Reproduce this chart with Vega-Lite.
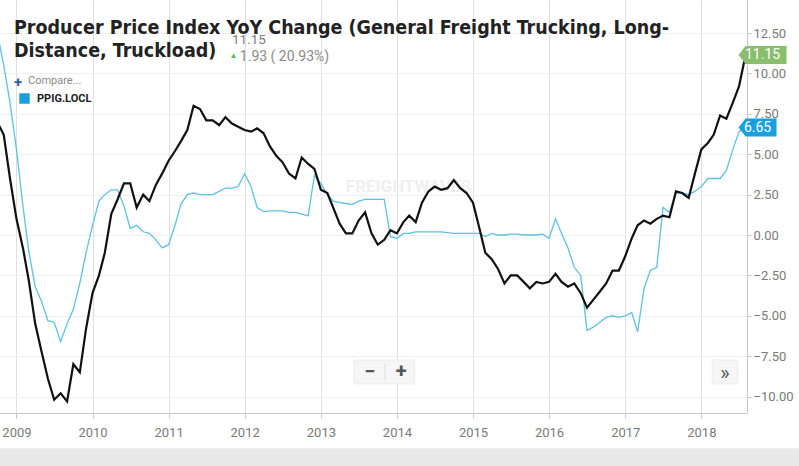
{
  "$schema": "https://vega.github.io/schema/vega-lite/v6.json",
  "width": 747,
  "height": 413,
  "autosize": {"type": "none"},
  "padding": {"left": 0, "top": 0, "right": 52, "bottom": 53},
  "background": "white",
  "config": {"view": {"stroke": null}, "font": "Roboto"},
  "title": {
    "text": ["Producer Price Index YoY Change (General Freight Trucking, Long-", "Distance, Truckload)"],
    "anchor": "start",
    "frame": "group",
    "offset": -76,
    "dx": 14,
    "baseline": "alphabetic",
    "font": "Liberation Sans Narrow, DejaVu Sans Condensed, Roboto",
    "fontSize": 19.5,
    "fontWeight": "bold",
    "color": "#222222",
    "lineHeight": 23
  },
  "data": {
    "values": [
      {"d": "2008-10-01", "tl": 7.0, "ppig": 12.5},
      {"d": "2008-11-01", "tl": 6.2, "ppig": 10.5},
      {"d": "2008-12-01", "tl": 3.5, "ppig": 8.2},
      {"d": "2009-01-01", "tl": 1.0, "ppig": 5.3},
      {"d": "2009-02-01", "tl": -0.8, "ppig": 1.8},
      {"d": "2009-03-01", "tl": -2.8, "ppig": -1.0},
      {"d": "2009-04-01", "tl": -5.5, "ppig": -3.2},
      {"d": "2009-05-01", "tl": -7.2, "ppig": -4.1},
      {"d": "2009-06-01", "tl": -8.9, "ppig": -5.3},
      {"d": "2009-07-01", "tl": -10.2, "ppig": -5.4},
      {"d": "2009-08-01", "tl": -9.8, "ppig": -6.6},
      {"d": "2009-09-01", "tl": -10.3, "ppig": -5.5},
      {"d": "2009-10-01", "tl": -8.0, "ppig": -4.6},
      {"d": "2009-11-01", "tl": -8.5, "ppig": -3.0},
      {"d": "2009-12-01", "tl": -5.8, "ppig": -1.1},
      {"d": "2010-01-01", "tl": -3.6, "ppig": 0.6},
      {"d": "2010-02-01", "tl": -2.5, "ppig": 2.1},
      {"d": "2010-03-01", "tl": -1.1, "ppig": 2.5},
      {"d": "2010-04-01", "tl": 1.3, "ppig": 2.8},
      {"d": "2010-05-01", "tl": 2.2, "ppig": 2.8},
      {"d": "2010-06-01", "tl": 3.2, "ppig": 1.8},
      {"d": "2010-07-01", "tl": 3.2, "ppig": 0.4},
      {"d": "2010-08-01", "tl": 1.7, "ppig": 0.6},
      {"d": "2010-09-01", "tl": 2.5, "ppig": 0.2},
      {"d": "2010-10-01", "tl": 2.1, "ppig": 0.1},
      {"d": "2010-11-01", "tl": 3.1, "ppig": -0.3},
      {"d": "2010-12-01", "tl": 3.8, "ppig": -0.8},
      {"d": "2011-01-01", "tl": 4.6, "ppig": -0.6},
      {"d": "2011-02-01", "tl": 5.2, "ppig": 0.6},
      {"d": "2011-03-01", "tl": 5.8, "ppig": 1.9},
      {"d": "2011-04-01", "tl": 6.5, "ppig": 2.5},
      {"d": "2011-05-01", "tl": 8.0, "ppig": 2.6},
      {"d": "2011-06-01", "tl": 7.8, "ppig": 2.5},
      {"d": "2011-07-01", "tl": 7.1, "ppig": 2.5},
      {"d": "2011-08-01", "tl": 7.1, "ppig": 2.5},
      {"d": "2011-09-01", "tl": 6.8, "ppig": 2.7},
      {"d": "2011-10-01", "tl": 7.3, "ppig": 2.9},
      {"d": "2011-11-01", "tl": 6.9, "ppig": 2.9},
      {"d": "2011-12-01", "tl": 6.7, "ppig": 3.0},
      {"d": "2012-01-01", "tl": 6.5, "ppig": 3.8},
      {"d": "2012-02-01", "tl": 6.4, "ppig": 3.0},
      {"d": "2012-03-01", "tl": 6.6, "ppig": 1.7},
      {"d": "2012-04-01", "tl": 6.3, "ppig": 1.45},
      {"d": "2012-05-01", "tl": 5.5, "ppig": 1.5},
      {"d": "2012-06-01", "tl": 4.9, "ppig": 1.5},
      {"d": "2012-07-01", "tl": 4.5, "ppig": 1.5},
      {"d": "2012-08-01", "tl": 3.8, "ppig": 1.4},
      {"d": "2012-09-01", "tl": 3.5, "ppig": 1.4},
      {"d": "2012-10-01", "tl": 4.8, "ppig": 1.3},
      {"d": "2012-11-01", "tl": 4.4, "ppig": 1.2},
      {"d": "2012-12-01", "tl": 4.1, "ppig": 3.7},
      {"d": "2013-01-01", "tl": 2.8, "ppig": 3.2},
      {"d": "2013-02-01", "tl": 2.6, "ppig": 2.5},
      {"d": "2013-03-01", "tl": 1.7, "ppig": 2.1},
      {"d": "2013-04-01", "tl": 0.7, "ppig": 2.0},
      {"d": "2013-05-01", "tl": 0.1, "ppig": 1.95},
      {"d": "2013-06-01", "tl": 0.1, "ppig": 1.9},
      {"d": "2013-07-01", "tl": 0.9, "ppig": 2.1},
      {"d": "2013-08-01", "tl": 1.4, "ppig": 2.2},
      {"d": "2013-09-01", "tl": 0.1, "ppig": 2.2},
      {"d": "2013-10-01", "tl": -0.6, "ppig": 2.2},
      {"d": "2013-11-01", "tl": -0.3, "ppig": 2.2},
      {"d": "2013-12-01", "tl": 0.3, "ppig": -0.1},
      {"d": "2014-01-01", "tl": 0.1, "ppig": -0.2},
      {"d": "2014-02-01", "tl": 0.8, "ppig": 0.1},
      {"d": "2014-03-01", "tl": 1.2, "ppig": 0.1},
      {"d": "2014-04-01", "tl": 0.8, "ppig": 0.2},
      {"d": "2014-05-01", "tl": 2.0, "ppig": 0.2},
      {"d": "2014-06-01", "tl": 2.7, "ppig": 0.2},
      {"d": "2014-07-01", "tl": 3.0, "ppig": 0.2},
      {"d": "2014-08-01", "tl": 2.8, "ppig": 0.2},
      {"d": "2014-09-01", "tl": 2.9, "ppig": 0.15},
      {"d": "2014-10-01", "tl": 3.4, "ppig": 0.1},
      {"d": "2014-11-01", "tl": 2.9, "ppig": 0.1},
      {"d": "2014-12-01", "tl": 2.6, "ppig": 0.1},
      {"d": "2015-01-01", "tl": 2.0, "ppig": 0.1},
      {"d": "2015-02-01", "tl": 0.4, "ppig": 0.1},
      {"d": "2015-03-01", "tl": -1.1, "ppig": -0.1},
      {"d": "2015-04-01", "tl": -1.5, "ppig": 0.1},
      {"d": "2015-05-01", "tl": -2.1, "ppig": 0.0},
      {"d": "2015-06-01", "tl": -3.0, "ppig": 0.0},
      {"d": "2015-07-01", "tl": -2.5, "ppig": 0.05},
      {"d": "2015-08-01", "tl": -2.5, "ppig": 0.05},
      {"d": "2015-09-01", "tl": -2.9, "ppig": 0.0},
      {"d": "2015-10-01", "tl": -3.3, "ppig": 0.0},
      {"d": "2015-11-01", "tl": -2.9, "ppig": 0.0},
      {"d": "2015-12-01", "tl": -3.0, "ppig": 0.05},
      {"d": "2016-01-01", "tl": -2.9, "ppig": -0.2},
      {"d": "2016-02-01", "tl": -2.4, "ppig": 1.0},
      {"d": "2016-03-01", "tl": -2.9, "ppig": 0.1},
      {"d": "2016-04-01", "tl": -3.2, "ppig": -0.8},
      {"d": "2016-05-01", "tl": -3.0, "ppig": -2.0},
      {"d": "2016-06-01", "tl": -3.6, "ppig": -2.5},
      {"d": "2016-07-01", "tl": -4.5, "ppig": -5.9},
      {"d": "2016-08-01", "tl": -4.0, "ppig": -5.7},
      {"d": "2016-09-01", "tl": -3.5, "ppig": -5.4},
      {"d": "2016-10-01", "tl": -3.0, "ppig": -5.1},
      {"d": "2016-11-01", "tl": -2.2, "ppig": -5.0},
      {"d": "2016-12-01", "tl": -2.2, "ppig": -5.1},
      {"d": "2017-01-01", "tl": -1.3, "ppig": -5.0},
      {"d": "2017-02-01", "tl": -0.2, "ppig": -4.8},
      {"d": "2017-03-01", "tl": 0.6, "ppig": -6.0},
      {"d": "2017-04-01", "tl": 0.9, "ppig": -3.3},
      {"d": "2017-05-01", "tl": 0.7, "ppig": -2.2},
      {"d": "2017-06-01", "tl": 1.0, "ppig": -2.0},
      {"d": "2017-07-01", "tl": 1.2, "ppig": 1.7},
      {"d": "2017-08-01", "tl": 1.1, "ppig": 1.4},
      {"d": "2017-09-01", "tl": 2.7, "ppig": 2.6},
      {"d": "2017-10-01", "tl": 2.6, "ppig": 2.6},
      {"d": "2017-11-01", "tl": 2.3, "ppig": 2.5},
      {"d": "2017-12-01", "tl": 3.8, "ppig": 2.7},
      {"d": "2018-01-01", "tl": 5.3, "ppig": 3.0},
      {"d": "2018-02-01", "tl": 5.7, "ppig": 3.5},
      {"d": "2018-03-01", "tl": 6.2, "ppig": 3.5},
      {"d": "2018-04-01", "tl": 7.4, "ppig": 3.5},
      {"d": "2018-05-01", "tl": 7.2, "ppig": 4.0},
      {"d": "2018-06-01", "tl": 8.2, "ppig": 5.3},
      {"d": "2018-07-01", "tl": 9.22, "ppig": 6.4},
      {"d": "2018-08-01", "tl": 11.15, "ppig": 6.65}
    ]
  },
  "layer": [
    {
      "data": {"values": [{}]},
      "mark": {"type": "rect", "color": "#e8e8e8", "clip": false},
      "encoding": {
        "x": {"datum": {"year": 2008, "month": 1, "date": 1, "utc": true}, "type": "temporal"},
        "x2": {"datum": {"year": 2020, "month": 1, "date": 1, "utc": true}},
        "y": {"datum": -13.2, "type": "quantitative"},
        "y2": {"datum": -16}
      }
    },
    {
      "data": {"values": [{}]},
      "mark": {"type": "text", "text": "FREIGHTWAVES", "fontSize": 17, "fontWeight": "bold", "color": "#efefef", "align": "center", "baseline": "middle"},
      "encoding": {
        "x": {"datum": {"year": 2014, "month": 2, "date": 25, "utc": true}, "type": "temporal"},
        "y": {"datum": 3.0, "type": "quantitative"}
      }
    },
    {
      "data": {"values": [{}]},
      "mark": {"type": "rect", "color": "#f6f6f6", "stroke": "#ececec", "cornerRadius": 2},
      "encoding": {
        "x": {"datum": {"year": 2013, "month": 6, "date": 8, "utc": true}, "type": "temporal"},
        "x2": {"datum": {"year": 2014, "month": 3, "date": 27, "utc": true}},
        "y": {"datum": -7.74, "type": "quantitative"},
        "y2": {"datum": -9.22}
      }
    },
    {
      "data": {"values": [{}]},
      "mark": {"type": "rect", "color": "#f6f6f6", "stroke": "#ececec", "cornerRadius": 2},
      "encoding": {
        "x": {"datum": {"year": 2018, "month": 2, "date": 22, "utc": true}, "type": "temporal"},
        "x2": {"datum": {"year": 2018, "month": 6, "date": 25, "utc": true}},
        "y": {"datum": -7.74, "type": "quantitative"},
        "y2": {"datum": -9.22}
      }
    },
    {
      "data": {"values": [{}]},
      "mark": {"type": "rule", "color": "#e2e2e2"},
      "encoding": {
        "x": {"datum": {"year": 2013, "month": 11, "date": 4, "utc": true}, "type": "temporal"},
        "y": {"datum": -7.95, "type": "quantitative"},
        "y2": {"datum": -9.0}
      }
    },
    {
      "data": {"values": [{}]},
      "mark": {"type": "text", "text": "−", "fontSize": 20, "fontWeight": "bold", "color": "#555", "align": "center", "baseline": "middle"},
      "encoding": {
        "x": {"datum": {"year": 2013, "month": 8, "date": 24, "utc": true}, "type": "temporal"},
        "y": {"datum": -8.5, "type": "quantitative"}
      }
    },
    {
      "data": {"values": [{}]},
      "mark": {"type": "text", "text": "+", "fontSize": 20, "fontWeight": "bold", "color": "#555", "align": "center", "baseline": "middle"},
      "encoding": {
        "x": {"datum": {"year": 2014, "month": 1, "date": 21, "utc": true}, "type": "temporal"},
        "y": {"datum": -8.5, "type": "quantitative"}
      }
    },
    {
      "data": {"values": [{}]},
      "mark": {"type": "text", "text": "»", "fontSize": 20, "color": "#555", "align": "center", "baseline": "middle"},
      "encoding": {
        "x": {"datum": {"year": 2018, "month": 4, "date": 24, "utc": true}, "type": "temporal"},
        "y": {"datum": -8.6, "type": "quantitative"}
      }
    },
    {
      "mark": {"type": "line", "color": "#5cc1e3", "strokeWidth": 1.3, "clip": true},
      "encoding": {
        "x": {
          "field": "d",
          "type": "temporal",
          "scale": {
            "type": "utc",
            "domain": [
              {"year": 2008, "month": 10, "date": 14, "utc": true},
              {"year": 2018, "month": 8, "date": 8, "utc": true}
            ]
          },
          "axis": {
            "title": null,
            "format": "%Y",
            "values": [
              {"year": 2009, "month": 1, "date": 1, "utc": true},
              {"year": 2010, "month": 1, "date": 1, "utc": true},
              {"year": 2011, "month": 1, "date": 1, "utc": true},
              {"year": 2012, "month": 1, "date": 1, "utc": true},
              {"year": 2013, "month": 1, "date": 1, "utc": true},
              {"year": 2014, "month": 1, "date": 1, "utc": true},
              {"year": 2015, "month": 1, "date": 1, "utc": true},
              {"year": 2016, "month": 1, "date": 1, "utc": true},
              {"year": 2017, "month": 1, "date": 1, "utc": true},
              {"year": 2018, "month": 1, "date": 1, "utc": true}
            ],
            "grid": true,
            "gridColor": "#e0e0e0",
            "domainColor": "#c8c8c8",
            "tickColor": "#c8c8c8",
            "tickSize": 5,
            "labelColor": "#7a7a7a",
            "labelFontSize": 13,
            "labelPadding": 8,
            "labelFlush": false
          }
        },
        "y": {
          "field": "ppig",
          "type": "quantitative",
          "scale": {"domain": [-11.02, 14.55], "nice": false, "zero": false},
          "axis": {
            "orient": "right",
            "title": null,
            "values": [-10, -7.5, -5, -2.5, 0, 2.5, 5, 7.5, 10, 12.5],
            "format": ".2f",
            "grid": true,
            "gridColor": "#efefef",
            "domainColor": "#c8c8c8",
            "tickColor": "#c8c8c8",
            "tickSize": 4,
            "labelPadding": 2,
            "labelColor": "#7a7a7a",
            "labelFontSize": 13
          }
        }
      }
    },
    {
      "mark": {"type": "line", "color": "#111111", "strokeWidth": 2.2, "clip": true},
      "encoding": {
        "x": {"field": "d", "type": "temporal"},
        "y": {"field": "tl", "type": "quantitative"}
      }
    },
    {
      "transform": [{"filter": "false"}],
      "mark": {"type": "point", "filled": true, "shape": "square"},
      "encoding": {
        "x": {"field": "d", "type": "temporal"},
        "y": {"field": "ppig", "type": "quantitative"},
        "color": {
          "datum": "PPIG.LOCL",
          "type": "nominal",
          "scale": {"range": ["#1aa0dc"]},
          "legend": {
            "orient": "none",
            "legendX": 28,
            "legendY": 75,
            "title": "Compare...",
            "titleFontSize": 11,
            "titleColor": "#8a8a8a",
            "titleFontWeight": "normal",
            "titlePadding": 7,
            "labelFontSize": 11,
            "labelFontWeight": "bold",
            "labelColor": "#222",
            "symbolType": "square",
            "symbolSize": 110,
            "symbolStrokeWidth": 0,
            "symbolOpacity": 1,
            "symbolOffset": -9,
            "labelOffset": 7
          }
        }
      }
    },
    {
      "data": {"values": [{}]},
      "mark": {"type": "text", "text": "+", "fontSize": 15, "fontWeight": "bold", "color": "#2f5f9e", "align": "center", "baseline": "middle"},
      "encoding": {
        "x": {"datum": {"year": 2009, "month": 1, "date": 9, "utc": true}, "type": "temporal"},
        "y": {"datum": 9.5, "type": "quantitative"}
      }
    },
    {
      "transform": [{"filter": "datum.tl == 11.15"}],
      "mark": {"type": "point", "filled": true, "shape": "M-0.7,0L0,-0.9L4.1,-0.9L4.1,0.9L0,0.9Z", "size": 400, "color": "#88be6c", "opacity": 1},
      "encoding": {
        "x": {"field": "d", "type": "temporal"},
        "y": {"field": "tl", "type": "quantitative"}
      }
    },
    {
      "transform": [{"filter": "datum.tl == 11.15"}],
      "mark": {"type": "text", "dx": 17, "align": "center", "baseline": "middle", "fontSize": 14, "color": "white"},
      "encoding": {
        "x": {"field": "d", "type": "temporal"},
        "y": {"field": "tl", "type": "quantitative"},
        "text": {"field": "tl", "type": "quantitative", "format": ".2f"}
      }
    },
    {
      "transform": [{"filter": "datum.tl == 11.15"}],
      "mark": {"type": "point", "filled": true, "shape": "M-0.7,0L0,-0.9L3.1,-0.9L3.1,0.9L0,0.9Z", "size": 400, "color": "#18a0df", "opacity": 1},
      "encoding": {
        "x": {"field": "d", "type": "temporal"},
        "y": {"field": "ppig", "type": "quantitative"}
      }
    },
    {
      "transform": [{"filter": "datum.tl == 11.15"}],
      "mark": {"type": "text", "dx": 12, "align": "center", "baseline": "middle", "fontSize": 14, "color": "white"},
      "encoding": {
        "x": {"field": "d", "type": "temporal"},
        "y": {"field": "ppig", "type": "quantitative"},
        "text": {"field": "ppig", "type": "quantitative", "format": ".2f"}
      }
    },
    {
      "data": {"values": [{}]},
      "mark": {"type": "text", "text": "11.15", "fontSize": 13.5, "color": "#7d7d7d", "align": "left", "baseline": "alphabetic"},
      "encoding": {
        "x": {"datum": {"year": 2011, "month": 11, "date": 1, "utc": true}, "type": "temporal"},
        "y": {"datum": 11.85, "type": "quantitative"}
      }
    },
    {
      "data": {"values": [{}]},
      "mark": {"type": "text", "text": "▲", "fontSize": 8, "color": "#5cb85c", "align": "center", "baseline": "middle"},
      "encoding": {
        "x": {"datum": {"year": 2011, "month": 11, "date": 8, "utc": true}, "type": "temporal"},
        "y": {"datum": 11.1, "type": "quantitative"}
      }
    },
    {
      "data": {"values": [{}]},
      "mark": {"type": "text", "text": "1.93 ( 20.93%)", "fontSize": 14, "color": "#8a8a8a", "align": "left", "baseline": "alphabetic"},
      "encoding": {
        "x": {"datum": {"year": 2011, "month": 12, "date": 9, "utc": true}, "type": "temporal"},
        "y": {"datum": 10.77, "type": "quantitative"}
      }
    }
  ]
}
